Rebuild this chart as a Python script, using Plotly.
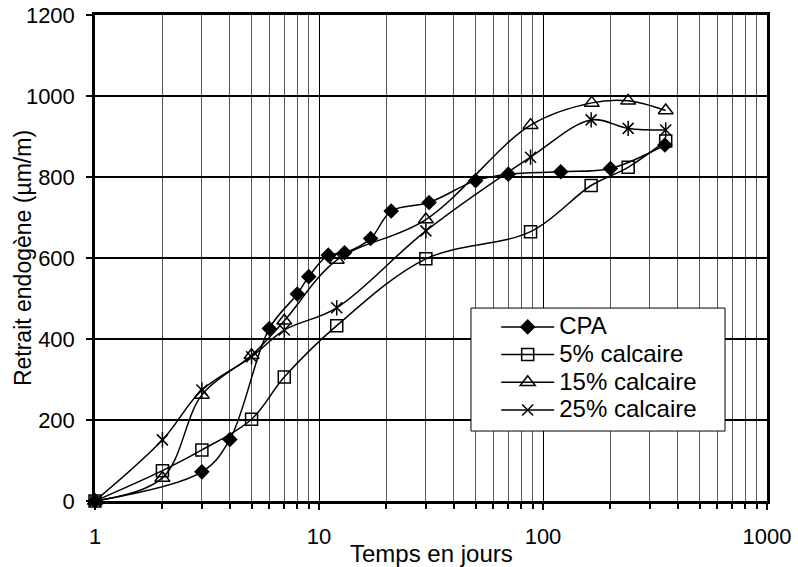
import plotly.graph_objects as go

# ---- data ----
days_cpa = [1, 3, 4, 6, 8, 9, 11, 13, 17, 21, 31, 50, 70, 120, 200, 350]
retrait_cpa = [0, 72, 152, 426, 511, 554, 607, 613, 648, 716, 737, 791, 807, 813, 821, 879]

days_5 = [1, 2, 3, 5, 7, 12, 30, 88, 164, 240, 353]
retrait_5 = [0, 75, 126, 202, 306, 433, 598, 665, 779, 824, 889]

days_15 = [1, 2, 3, 5, 7, 12, 30, 88, 165, 240, 353]
retrait_15 = [0, 57, 262, 360, 445, 595, 695, 928, 983, 988, 964]

days_25 = [1, 2, 3, 5, 7, 12, 30, 88, 164, 240, 353]
retrait_25 = [0, 151, 274, 356, 422, 477, 667, 849, 941, 920, 916]

series_names = ["CPA", "5% calcaire", "15% calcaire", "25% calcaire"]

x_tickvals = [1, 10, 100, 1000]
x_ticktext = ["1", "10", "100", "1000"]
x_minor = [m * d for d in (1, 10, 100) for m in range(2, 10)]
y_tickvals = [0, 200, 400, 600, 800, 1000, 1200]

FONT = "Liberation Sans, Arial, sans-serif"
line_style = dict(color="black", width=1.5, shape="spline", smoothing=1)


def legend_name(s):
    return '<span style="font-size:24px">' + s + '</span>'


fig = go.Figure()
fig.add_trace(go.Scatter(
    x=days_cpa, y=retrait_cpa, mode="lines+markers", name=legend_name(series_names[0]),
    line=line_style, cliponaxis=False,
    marker=dict(symbol="diamond", size=12, color="black", line=dict(width=0))))
fig.add_trace(go.Scatter(
    x=days_5, y=retrait_5, mode="lines+markers", name=legend_name(series_names[1]),
    line=line_style, cliponaxis=False,
    marker=dict(symbol="square-open", size=12, color="black", line=dict(width=1.5, color="black"))))
fig.add_trace(go.Scatter(
    x=days_15, y=retrait_15, mode="lines+markers", name=legend_name(series_names[2]),
    line=line_style, cliponaxis=False,
    marker=dict(symbol="triangle-up-open", size=13, color="black", line=dict(width=1.5, color="black"))))
fig.add_trace(go.Scatter(
    x=days_25, y=retrait_25, mode="lines+markers", name=legend_name(series_names[3]),
    line=line_style, cliponaxis=False,
    marker=dict(symbol="x-thin-open", size=11, color="black", line=dict(width=1.5, color="black"))))
fig.add_trace(go.Scatter(
    x=days_25, y=retrait_25, mode="markers", showlegend=False, cliponaxis=False,
    marker=dict(symbol="line-ns-open", size=11, color="black", line=dict(width=1.5, color="black"))))

fig.update_layout(
    width=798, height=567,
    margin=dict(l=95, r=31, t=15, b=66),
    paper_bgcolor="white", plot_bgcolor="white",
    font=dict(family=FONT, size=22, color="black"),
    showlegend=True,
    legend=dict(
        x=0.597, y=0.397, xanchor="left", yanchor="top",
        bgcolor="rgba(0,0,0,0)", borderwidth=0,
        font=dict(family=FONT, size=19, color="black"),
        itemwidth=53,
    ),
    shapes=[
        # legend frame
        dict(type="rect", xref="paper", yref="paper", layer="above",
             x0=0.5595, x1=0.9375, y0=0.144, y1=0.397,
             fillcolor="white", line=dict(color="black", width=1)),
    ],
    annotations=[
        dict(text="Temps en jours", xref="paper", yref="paper", x=0.5, y=-0.107,
             xanchor="center", yanchor="middle", showarrow=False,
             font=dict(family=FONT, size=24, color="black")),
        dict(text="Retrait endogène (µm/m)", xref="paper", yref="paper", x=-0.107, y=0.50,
             xanchor="center", yanchor="middle", textangle=-90, showarrow=False,
             font=dict(family=FONT, size=23, color="black")),
    ],
)

fig.update_xaxes(
    type="log", range=[0, 3], automargin=False,
    tickvals=x_tickvals, ticktext=x_ticktext,
    showgrid=True, gridcolor="black", gridwidth=1,
    showline=True, linecolor="black", linewidth=2.5, mirror=True,
    ticks="outside", ticklen=6, tickwidth=1.5, tickcolor="black",
    ticklabelstandoff=8, zeroline=False,
    tickfont=dict(family=FONT, size=22, color="black"),
    minor=dict(tickvals=x_minor, showgrid=True, gridcolor="#555555", gridwidth=1,
               ticks="outside", ticklen=5, tickwidth=1.5, tickcolor="black"),
)
fig.update_yaxes(
    range=[0, 1200], tickvals=y_tickvals, automargin=False,
    showgrid=True, gridcolor="black", gridwidth=1.5,
    showline=True, linecolor="black", linewidth=2.5, mirror=True,
    ticks="outside", ticklen=6, tickwidth=1.5, tickcolor="black",
    ticklabelstandoff=7, zeroline=False,
    tickfont=dict(family=FONT, size=22, color="black"),
)

fig.write_html("out.html")
